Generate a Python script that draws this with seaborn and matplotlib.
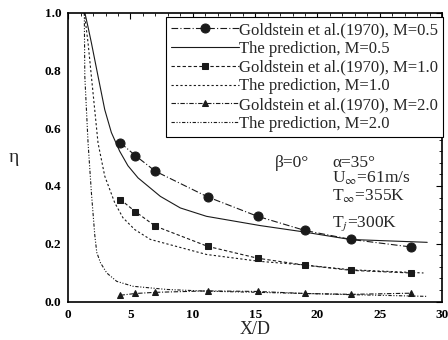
import matplotlib
matplotlib.use("Agg")
import matplotlib.pyplot as plt
import seaborn as sns
from matplotlib.ticker import MultipleLocator

# ---- data ----
xd = [4.2, 5.4, 7.0, 11.2, 15.2, 19.0, 22.7, 27.5]
data_m05 = [0.549, 0.505, 0.451, 0.362, 0.295, 0.246, 0.215, 0.189]
data_m10 = [0.353, 0.311, 0.261, 0.191, 0.150, 0.126, 0.108, 0.099]
data_m20 = [0.022, 0.028, 0.032, 0.037, 0.035, 0.028, 0.025, 0.029]

pred_x05 = [1.34, 1.6, 1.87, 2.4, 2.94, 3.47, 4.14, 4.8, 5.61, 7.4, 9.0, 11.1, 15.4, 18.6, 22.6, 28.8]
pred_m05 = [1.0, 0.95, 0.895, 0.78, 0.664, 0.585, 0.52, 0.47, 0.428, 0.364, 0.324, 0.295, 0.263, 0.243, 0.215, 0.205]

pred_x10 = [1.3, 1.6, 2.0, 2.4, 2.94, 3.74, 4.4, 5.35, 6.6, 11.1, 15.4, 18.6, 22.7, 28.5]
pred_m10 = [1.0, 0.895, 0.722, 0.549, 0.434, 0.342, 0.29, 0.249, 0.215, 0.163, 0.139, 0.128, 0.11, 0.099]

pred_x20 = [1.3, 1.34, 1.6, 1.87, 2.14, 2.3, 2.6, 3.1, 3.9, 5.2, 7.9, 11.1, 15.2, 19.0, 22.7, 28.8]
pred_m20 = [1.0, 0.78, 0.55, 0.376, 0.23, 0.17, 0.134, 0.099, 0.07, 0.053, 0.042, 0.036, 0.032, 0.028, 0.024, 0.018]

labels = ["Goldstein et al.(1970), M=0.5", "The prediction, M=0.5",
          "Goldstein et al.(1970), M=1.0", "The prediction, M=1.0",
          "Goldstein et al.(1970), M=2.0", "The prediction, M=2.0"]

sns.set_style("white")
plt.rcParams['font.family'] = ['Liberation Serif', 'DejaVu Serif']
plt.rcParams['mathtext.fontset'] = 'stix'

fig = plt.figure(figsize=(4.48, 3.4), dpi=100)
ax = fig.add_axes([0.152, 0.113, 0.835, 0.850])

c = '#1a1a1a'
lw = 0.8
sns.lineplot(x=xd, y=data_m05, ax=ax, color=c, lw=lw, linestyle=(0, (6, 2, 1, 2)),
             marker='o', markersize=6.5, markeredgecolor=c, label=labels[0], errorbar=None)
sns.lineplot(x=pred_x05, y=pred_m05, ax=ax, color=c, lw=lw, linestyle='-',
             label=labels[1], errorbar=None)
sns.lineplot(x=xd, y=data_m10, ax=ax, color=c, lw=lw, linestyle=(0, (3, 2)),
             marker='s', markersize=5, markeredgecolor=c, label=labels[2], errorbar=None)
sns.lineplot(x=pred_x10, y=pred_m10, ax=ax, color=c, lw=lw, linestyle=(0, (2, 2)),
             label=labels[3], errorbar=None)
sns.lineplot(x=xd, y=data_m20, ax=ax, color=c, lw=lw, linestyle=(0, (4, 1.5, 1, 1.5)),
             marker='^', markersize=5, markeredgecolor=c, label=labels[4], errorbar=None)
sns.lineplot(x=pred_x20, y=pred_m20, ax=ax, color=c, lw=lw, linestyle=(0, (3, 1.5, 1, 1.5, 1, 1.5)),
             label=labels[5], errorbar=None)

ax.set_xlim(0, 30)
ax.set_ylim(0, 1.0)
ax.xaxis.set_major_locator(MultipleLocator(5))
ax.xaxis.set_minor_locator(MultipleLocator(1))
ax.yaxis.set_major_locator(MultipleLocator(0.2))
ax.yaxis.set_minor_locator(MultipleLocator(0.04))
ax.yaxis.set_major_formatter(matplotlib.ticker.FormatStrFormatter('%.1f'))
ax.tick_params(which='both', direction='in', top=True, right=True, colors='k')
ax.tick_params(which='major', length=4, width=0.8, labelsize=9.5)
ax.tick_params(axis='x', which='major', pad=5)
ax.tick_params(axis='y', which='major', pad=5)
ax.tick_params(which='minor', length=2, width=0.6)
for lab in ax.get_xticklabels() + ax.get_yticklabels():
    lab.set_fontweight('bold')
for s in ax.spines.values():
    s.set_color('k')
    s.set_linewidth(1.2)

ax.set_xlabel("X/D", fontsize=13, labelpad=0)
ax.set_ylabel("η", fontsize=14, rotation=0, labelpad=22, va='center')

leg = ax.legend(loc='upper right', bbox_to_anchor=(1.003, 0.985), borderaxespad=0,
                frameon=True, fancybox=False, fontsize=12, handlelength=4.1,
                handletextpad=0.0, labelspacing=0.17, borderpad=0.3)
leg.get_frame().set_edgecolor('k')
leg.get_frame().set_linewidth(0.8)
leg.get_frame().set_alpha(1)

fs = 12.5
ax.text(16.6, 0.481, "β=0°", fontsize=fs, va='center', ha='left')
ax.text(21.2, 0.481, "α=35°", fontsize=fs, va='center', ha='left')
ax.text(21.2, 0.425, r"U$_\infty$=61m/s", fontsize=fs, va='center', ha='left')
ax.text(21.2, 0.363, r"T$_\infty$=355K", fontsize=fs, va='center', ha='left')
ax.text(21.2, 0.27, r"T$_j$=300K", fontsize=fs, va='center', ha='left')

fig.savefig("out.png", dpi=100)
